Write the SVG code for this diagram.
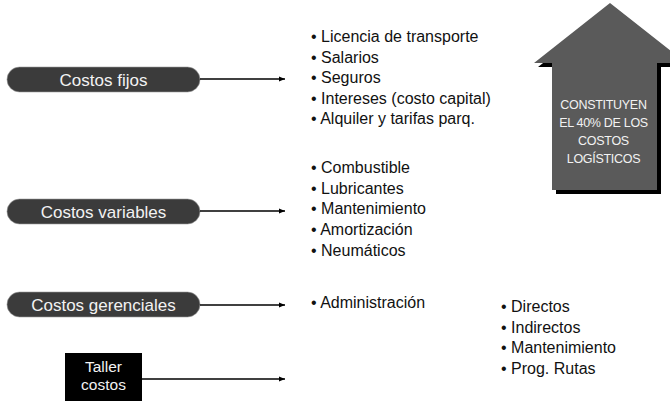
<svg xmlns="http://www.w3.org/2000/svg" width="670" height="401" viewBox="0 0 670 401">
<defs>
<marker id="ah" viewBox="0 0 10 10" refX="10" refY="5" markerWidth="6" markerHeight="6" markerUnits="userSpaceOnUse" orient="auto">
<path d="M0,1 L10,5 L0,9 Z" fill="#000"/>
</marker>
<style>
.pill{fill:#3b3b3b;stroke:#9a9a9a;stroke-width:0.6}
.pt{font-family:"Liberation Sans",Arial,sans-serif;font-size:17px;fill:#f2f2f2;text-anchor:middle}
.tt{font-family:"Liberation Sans",Arial,sans-serif;font-size:15.5px;fill:#f2f2f2;text-anchor:middle}
.li{font-family:"Liberation Sans",Arial,sans-serif;font-size:16px;fill:#111}
.conn{stroke:#000;stroke-width:1.4;fill:none;marker-end:url(#ah)}
.at{font-family:"Liberation Sans",Arial,sans-serif;font-size:12.5px;fill:#f2f2f2;text-anchor:middle;letter-spacing:-0.3px}
</style>
</defs>
<rect width="670" height="401" fill="#fff"/>

<g id="big-arrow">
<polygon points="614,7 690,67 661,67 661,194 556,194 556,67 538,67" fill="#000"/>
<polygon points="610,3 686,63 657,63 657,190 552,190 552,63 534,63" fill="#5a5a5a"/>
<text class="at" x="603.5" y="109">CONSTITUYEN</text>
<text class="at" x="603.5" y="127">EL 40% DE LOS</text>
<text class="at" x="603.5" y="145">COSTOS</text>
<text class="at" x="603.5" y="163">LOGÍSTICOS</text>
</g>

<g id="costos-fijos">
<rect class="pill" x="7" y="67" width="193" height="25" rx="12.5"/>
<text class="pt" x="103.5" y="85.5">Costos fijos</text>
</g>
<g id="costos-variables">
<rect class="pill" x="7" y="199" width="193" height="25" rx="12.5"/>
<text class="pt" x="103.5" y="217.5">Costos variables</text>
</g>
<g id="costos-gerenciales">
<rect class="pill" x="7" y="292" width="193" height="25" rx="12.5"/>
<text class="pt" x="103.5" y="310.5">Costos gerenciales</text>
</g>
<g id="taller-costos">
<rect x="65" y="353" width="77" height="48" fill="#000"/>
<text class="tt" x="103.5" y="372">Taller</text>
<text class="tt" x="103.5" y="390">costos</text>
</g>

<g id="connectors">
<line class="conn" x1="200" y1="79" x2="285" y2="79"/>
<line class="conn" x1="200" y1="211" x2="285" y2="211"/>
<line class="conn" x1="200" y1="305" x2="285" y2="305"/>
<line class="conn" x1="142" y1="379" x2="285" y2="379"/>
</g>

<g id="lista-fijos">
<text class="li" x="311" y="42">• Licencia de transporte</text>
<text class="li" x="311" y="62.5">• Salarios</text>
<text class="li" x="311" y="83">• Seguros</text>
<text class="li" x="311" y="103.5">• Intereses (costo capital)</text>
<text class="li" x="311" y="124">• Alquiler y tarifas parq.</text>
</g>
<g id="lista-variables">
<text class="li" x="311" y="173">• Combustible</text>
<text class="li" x="311" y="193.7">• Lubricantes</text>
<text class="li" x="311" y="214.4">• Mantenimiento</text>
<text class="li" x="311" y="235">• Amortización</text>
<text class="li" x="311" y="255.7">• Neumáticos</text>
</g>
<g id="lista-gerenciales">
<text class="li" x="311" y="308">• Administración</text>
</g>
<g id="lista-taller">
<text class="li" x="501" y="312">• Directos</text>
<text class="li" x="501" y="332.5">• Indirectos</text>
<text class="li" x="501" y="353">• Mantenimiento</text>
<text class="li" x="501" y="373.5">• Prog. Rutas</text>
</g>
</svg>
